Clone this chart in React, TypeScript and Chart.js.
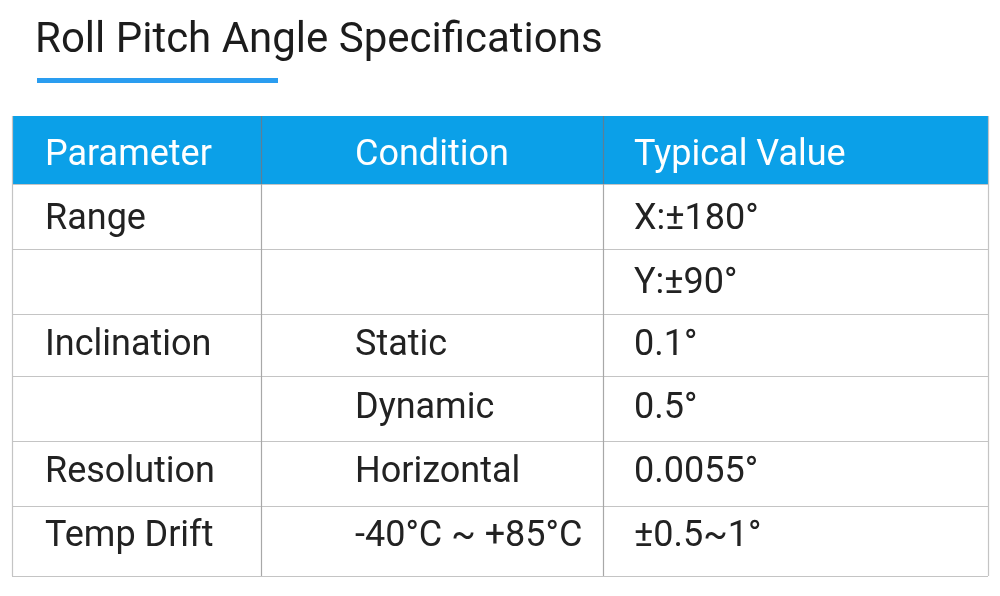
import React, { useEffect, useRef } from "react";
import { Chart, registerables } from "chart.js";

Chart.register(...registerables);

// Table content
const columns = ["Parameter", "Condition", "Typical Value"];
const parameters = ["Range", "", "Inclination", "", "Resolution", "Temp Drift"];
const conditions = ["", "", "Static", "Dynamic", "Horizontal", "-40°C ~ +85°C"];
const typicalValues = ["X:±180°", "Y:±90°", "0.1°", "0.5°", "0.0055°", "±0.5~1°"];
const title = "Roll Pitch Angle Specifications";

// Layout (scale units)
const colEdges = [0, 249, 591, 976];
const rowEdges = [0, 68, 133, 198, 260, 325, 390, 460];
const baselineOffsets = [49, 45, 44, 41, 42, 41, 40];

const FONT = "Roboto, 'Noto Sans', sans-serif";

const tablePlugin = {
  id: "tablePlugin",
  beforeDraw(chart: Chart) {
    const { ctx } = chart;
    const x = chart.scales.x;
    const y = chart.scales.y;
    ctx.save();
    ctx.fillStyle = "#ffffff";
    ctx.fillRect(0, 0, chart.width, chart.height);
    // header band
    ctx.fillStyle = "#0ba0e8";
    const x0 = x.getPixelForValue(colEdges[0]);
    const x1 = x.getPixelForValue(colEdges[colEdges.length - 1]);
    const y0 = y.getPixelForValue(rowEdges[0]);
    const y1 = y.getPixelForValue(rowEdges[1]);
    ctx.fillRect(x0, y0, x1 - x0, y1 - y0);
    // title
    ctx.fillStyle = "#1c1c1c";
    ctx.font = `42px ${FONT}`;
    ctx.textBaseline = "alphabetic";
    ctx.textAlign = "left";
    ctx.fillText(title, 35, 52);
    ctx.fillStyle = "#2a9df0";
    ctx.fillRect(37, 78, 241, 5);
    ctx.restore();
  },
  afterDraw(chart: Chart) {
    const { ctx } = chart;
    const x = chart.scales.x;
    const y = chart.scales.y;
    ctx.save();
    // grid lines
    ctx.lineWidth = 1.2;
    const left = x.getPixelForValue(colEdges[0]);
    const right = x.getPixelForValue(colEdges[colEdges.length - 1]);
    const top = y.getPixelForValue(rowEdges[0]);
    const bottom = y.getPixelForValue(rowEdges[rowEdges.length - 1]);
    const headerBottom = y.getPixelForValue(rowEdges[1]);
    ctx.strokeStyle = "#c4c4c4";
    rowEdges.forEach((r, i) => {
      if (i === 0) return;
      const py = Math.round(y.getPixelForValue(r)) + 0.5;
      ctx.beginPath();
      ctx.moveTo(left, py);
      ctx.lineTo(right, py);
      ctx.stroke();
    });
    colEdges.forEach((c, i) => {
      const px = Math.round(x.getPixelForValue(c)) + 0.5;
      const inner = i === 1 || i === 2;
      ctx.strokeStyle = inner ? "#5d7f96" : "#c4c4c4";
      ctx.beginPath();
      ctx.moveTo(px, top);
      ctx.lineTo(px, headerBottom);
      ctx.stroke();
      ctx.strokeStyle = inner ? "#a8a8a8" : "#c4c4c4";
      ctx.beginPath();
      ctx.moveTo(px, headerBottom);
      ctx.lineTo(px, bottom);
      ctx.stroke();
    });
    // text
    const insets = [33, 94, 31];
    const rows = [columns, ...parameters.map((p, i) => [p, conditions[i], typicalValues[i]])];
    const size = 36;
    ctx.font = `${size}px ${FONT}`;
    ctx.textAlign = "left";
    ctx.textBaseline = "alphabetic";
    rows.forEach((row, ri) => {
      const rowTop = y.getPixelForValue(rowEdges[ri]);
      const base = rowTop + baselineOffsets[ri];
      ctx.fillStyle = ri === 0 ? "#ffffff" : "#222222";
      row.forEach((txt, ci) => {
        if (!txt) return;
        const px = x.getPixelForValue(colEdges[ci]) + insets[ci];
        ctx.fillText(txt, px, base);
      });
    });
    ctx.restore();
  },
};

export default function App() {
  const canvasRef = useRef<HTMLCanvasElement | null>(null);
  const chartRef = useRef<Chart | null>(null);

  useEffect(() => {
    document.body.style.margin = "0";
    if (!canvasRef.current) return;
    const ctx = canvasRef.current.getContext("2d");
    if (!ctx) return;
    if (chartRef.current) chartRef.current.destroy();

    chartRef.current = new Chart(ctx, {
      type: "scatter",
      data: { datasets: [{ data: [], pointRadius: 0 }] },
      options: {
        animation: false,
        responsive: true,
        maintainAspectRatio: false,
        layout: { padding: { left: 12, right: 12, top: 116, bottom: 20 } },
        plugins: { legend: { display: false }, tooltip: { enabled: false } },
        scales: {
          x: { display: false, type: "linear", min: colEdges[0], max: colEdges[colEdges.length - 1] },
          y: { display: false, type: "linear", reverse: true, min: rowEdges[0], max: rowEdges[rowEdges.length - 1] },
        },
      },
      plugins: [tablePlugin],
    });

    return () => {
      if (chartRef.current) {
        chartRef.current.destroy();
        chartRef.current = null;
      }
    };
  }, []);

  return (
    <div style={{ width: 1000, height: 596, position: "relative" }}>
      <canvas ref={canvasRef} />
    </div>
  );
}
